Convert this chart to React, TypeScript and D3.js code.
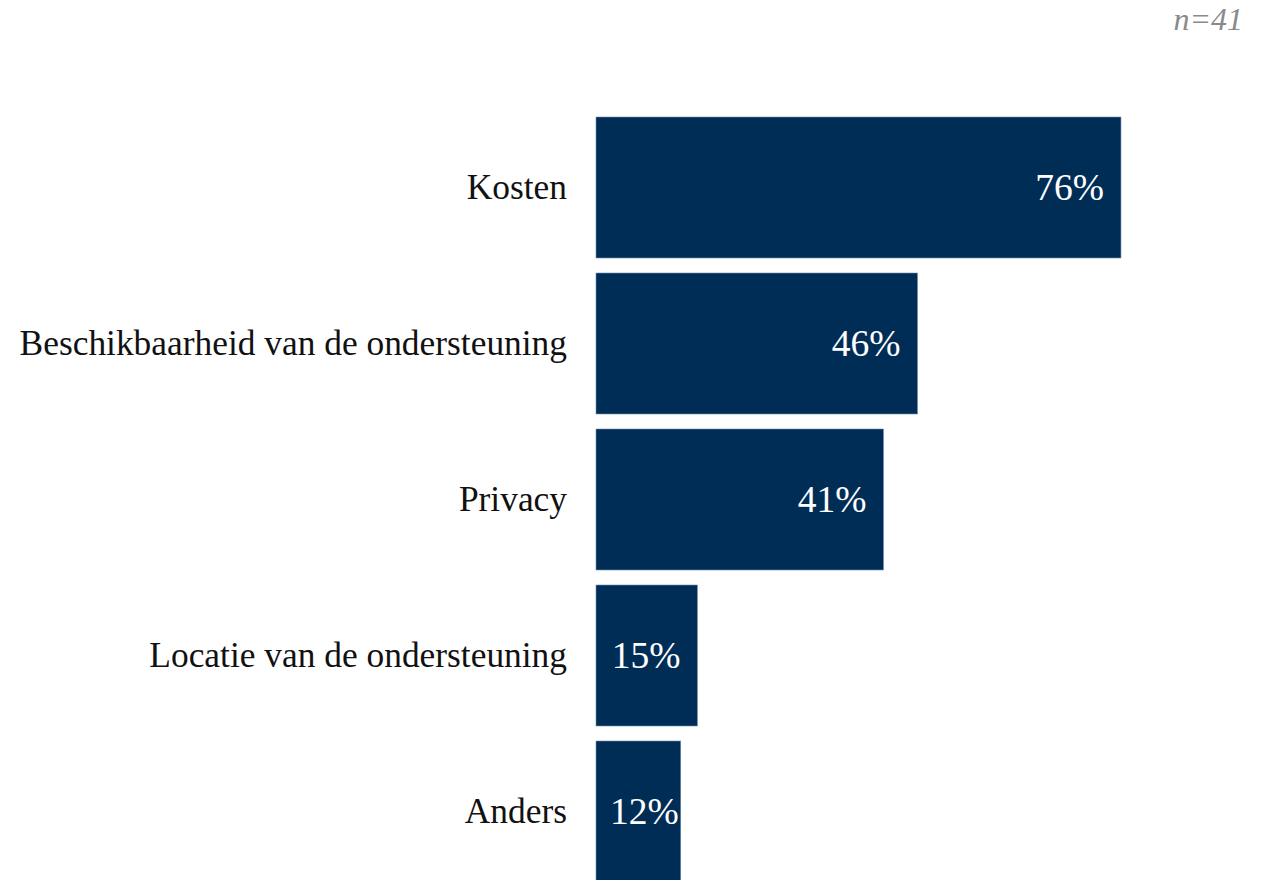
import React from "react";
import * as d3 from "d3";

const categories = [
  "Kosten",
  "Beschikbaarheid van de ondersteuning",
  "Privacy",
  "Locatie van de ondersteuning",
  "Anders",
];
const values = [75.6, 46.3, 41.4, 14.6, 12.2];
const sampleLabel = "n=41";

const W = 1273;
const H = 880;
const FONT = "'Liberation Serif', 'Times New Roman', serif";
const BAR = "#002d56";

export default function App() {
  const x = d3.scaleLinear().domain([0, 100]).range([596, 1290.4]);
  const y = d3
    .scaleBand<string>()
    .domain(categories)
    .range([117, 882])
    .paddingInner(15 / 156)
    .paddingOuter(0);

  const valueFont = 37.5;
  const labelW = (s: string) => s.length * valueFont * 0.6;

  return (
    <svg
      width={W}
      height={H}
      viewBox={`0 0 ${W} ${H}`}
      style={{ position: "absolute", left: 0, top: 0, background: "#fff" }}
    >
      <text
        x={1243}
        y={30}
        textAnchor="end"
        fontFamily={FONT}
        fontStyle="italic"
        fontSize={32}
        fill="#8a8a8a"
      >
        {sampleLabel}
      </text>
      {categories.map((c, i) => {
        const y0 = y(c)!;
        const bw = y.bandwidth();
        const x0 = x(0);
        const x1 = x(values[i]);
        const lbl = `${Math.round(values[i])}%`;
        const wEst = labelW(lbl);
        const fitsRight = x1 - 17 - wEst >= x0 + 14;
        return (
          <g key={c}>
            <rect
              x={x0}
              y={y0}
              width={x1 - x0}
              height={bw}
              fill={BAR}
              stroke="#6f8fb3"
              strokeWidth={0.6}
            />
            <text
              x={x0 - 29}
              y={y0 + bw / 2}
              dy="0.33em"
              textAnchor="end"
              fontFamily={FONT}
              fontSize={35.4}
              fill="#111"
            >
              {c}
            </text>
            <text
              x={fitsRight ? x1 - 17 : x0 + 14}
              y={y0 + bw / 2}
              dy="0.33em"
              textAnchor={fitsRight ? "end" : "start"}
              fontFamily={FONT}
              fontSize={valueFont}
              fill="#fff"
            >
              {lbl}
            </text>
          </g>
        );
      })}
    </svg>
  );
}
